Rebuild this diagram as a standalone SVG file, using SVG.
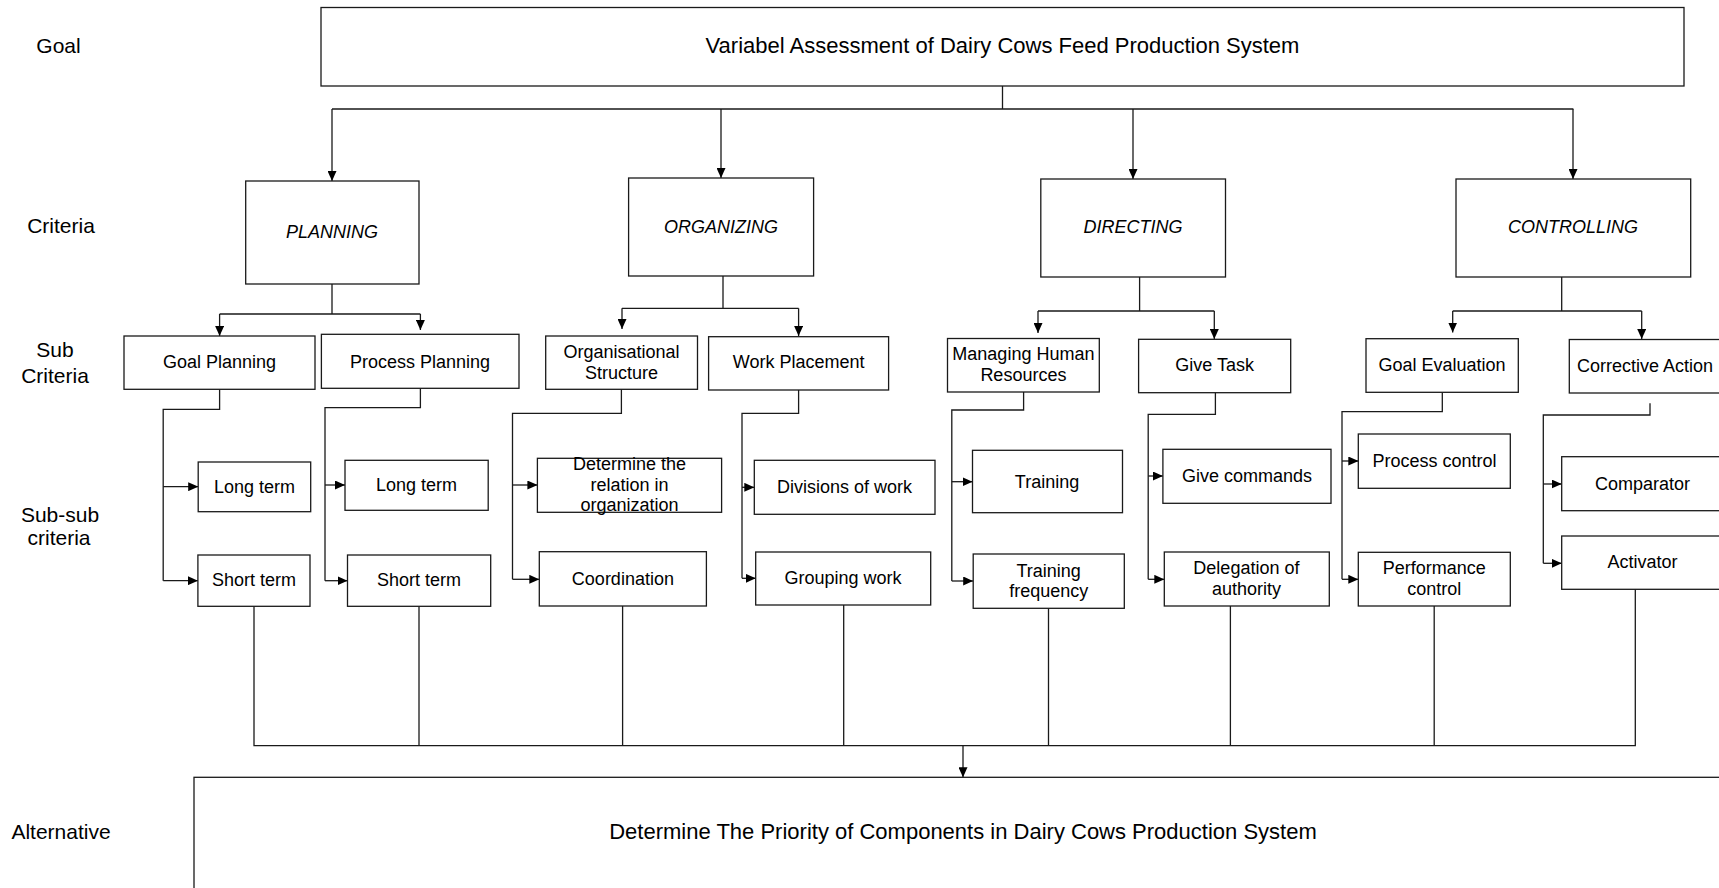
<svg xmlns="http://www.w3.org/2000/svg" width="1719" height="888" viewBox="0 0 1719 888">
<style>
.bx{fill:#fff;stroke:#1a1a1a;stroke-width:1.3}
.t{font-family:"Liberation Sans",Arial,sans-serif;font-size:18px;fill:#000;text-anchor:middle}
.ti{font-style:italic}
.big{font-size:22px}
.lbl{font-family:"Liberation Sans",Arial,sans-serif;font-size:21px;fill:#000;text-anchor:middle}
.c{fill:none;stroke:#1a1a1a;stroke-width:1.3}
.a{marker-end:url(#ah)}
</style>
<defs>
<marker id="ah" markerUnits="userSpaceOnUse" markerWidth="10" markerHeight="9" refX="10" refY="4.5" orient="auto">
<path d="M0,0 L10,4.5 L0,9 Z" fill="#000"/>
</marker>
</defs>
<rect width="1719" height="888" fill="#fff"/>
<g id="labels">
<text class="lbl big" x="58.5" y="53">Goal</text>
<text class="lbl big" x="61" y="233">Criteria</text>
<text class="lbl" x="55" y="357">Sub</text>
<text class="lbl" x="55" y="383">Criteria</text>
<text class="lbl" x="60" y="521.5">Sub-sub</text>
<text class="lbl" x="59" y="545">criteria</text>
<text class="lbl big" x="61" y="839">Alternative</text>
</g>
<g id="connectors">
<path class="c" d="M1002.5,86 V109 M332,109 H1573.4"/>
<path class="c a" d="M332,109 V181"/>
<path class="c a" d="M721,109 V178"/>
<path class="c a" d="M1133,109 V179"/>
<path class="c a" d="M1573,109 V179"/>
<path class="c" d="M332,284 V314 M219.6,314 H420.4"/>
<path class="c a" d="M219.6,314 V336"/>
<path class="c a" d="M420.4,314 V330"/>
<path class="c" d="M723,276 V308.3 M622,308.3 H798.6"/>
<path class="c a" d="M622,308.3 V329"/>
<path class="c a" d="M798.6,308.3 V336"/>
<path class="c" d="M1139.6,277 V311 M1038,311 H1214.3"/>
<path class="c a" d="M1038,311 V333"/>
<path class="c a" d="M1214.3,311 V339"/>
<path class="c" d="M1561.7,277 V311 M1452.7,311 H1641.7"/>
<path class="c a" d="M1452.7,311 V332.5"/>
<path class="c a" d="M1641.7,311 V339"/>
<path class="c" d="M219.6,389.3 V409.3 H163.2 V580.7"/>
<path class="c a" d="M163.2,486.7 H198.2"/>
<path class="c a" d="M163.2,580.7 H197.9"/>
<path class="c" d="M420.4,388.3 V407.7 H325 V580.7"/>
<path class="c a" d="M325,485 H345"/>
<path class="c a" d="M325,580.7 H347.5"/>
<path class="c" d="M621.4,389.3 V413.3 H512.5 V579.3"/>
<path class="c a" d="M512.5,485 H537.4"/>
<path class="c a" d="M512.5,579.3 H539.3"/>
<path class="c" d="M798.6,390 V413.3 H742 V578.3"/>
<path class="c a" d="M742,487.3 H754.3"/>
<path class="c a" d="M742,578.3 H755.7"/>
<path class="c" d="M1023.6,392 V410 H951.8 V581"/>
<path class="c a" d="M951.8,481.7 H972.5"/>
<path class="c a" d="M951.8,581 H973.2"/>
<path class="c" d="M1215.4,392.7 V414.3 H1148.2 V579.3"/>
<path class="c a" d="M1148.2,476 H1162.9"/>
<path class="c a" d="M1148.2,579.3 H1164.3"/>
<path class="c" d="M1442.3,392.3 V411.7 H1342 V579.3"/>
<path class="c a" d="M1342,461 H1358.3"/>
<path class="c a" d="M1342,579.3 H1358.3"/>
<path class="c" d="M1650,403.3 V415 H1543.3 V563.3"/>
<path class="c a" d="M1543.3,484 H1561.7"/>
<path class="c a" d="M1543.3,563.3 H1561.7"/>
<path class="c" d="M254,606.3 V745.7 H1635.3 V589.3 M419,606.3 V745.7 M622.6,606 V745.7 M843.7,605 V745.7 M1048.5,608.3 V745.7 M1230.4,606 V745.7 M1434.2,606 V745.7"/>
<path class="c a" d="M963,745.7 V777.3"/>
</g>
<g id="goal"><rect class="bx" x="321" y="7.5" width="1363" height="78.5"/><text class="t big" x="1002.5" y="53">Variabel Assessment of Dairy Cows Feed Production System</text></g>
<g id="planning"><rect class="bx" x="245.7" y="181" width="173.3" height="103"/><text class="t ti" x="332" y="238">PLANNING</text></g>
<g id="organizing"><rect class="bx" x="628.6" y="178" width="185" height="98"/><text class="t ti" x="721" y="233">ORGANIZING</text></g>
<g id="directing"><rect class="bx" x="1040.8" y="179" width="184.7" height="98"/><text class="t ti" x="1133" y="233">DIRECTING</text></g>
<g id="controlling"><rect class="bx" x="1456" y="179" width="234.7" height="98"/><text class="t ti" x="1573" y="233">CONTROLLING</text></g>
<g id="goal-planning"><rect class="bx" x="124" y="336" width="191" height="53.3"/><text class="t" x="219.5" y="368">Goal Planning</text></g>
<g id="process-planning"><rect class="bx" x="321.4" y="334.3" width="197.6" height="54"/><text class="t" x="420" y="367.7">Process Planning</text></g>
<g id="organisational-structure"><rect class="bx" x="545.7" y="336" width="151.8" height="53.3"/><text class="t" x="621.6" y="358">Organisational</text><text class="t" x="621.6" y="379">Structure</text></g>
<g id="work-placement"><rect class="bx" x="708.6" y="336.7" width="180" height="53.3"/><text class="t" x="798.6" y="368.3">Work Placement</text></g>
<g id="managing-human-resources"><rect class="bx" x="947.5" y="338.5" width="151.8" height="53.5"/><text class="t" x="1023.4" y="359.5">Managing Human</text><text class="t" x="1023.4" y="380.5">Resources</text></g>
<g id="give-task"><rect class="bx" x="1138.6" y="339.3" width="152.1" height="53.4"/><text class="t" x="1214.6" y="371">Give Task</text></g>
<g id="goal-evaluation"><rect class="bx" x="1366" y="338.7" width="152.3" height="53.6"/><text class="t" x="1442" y="371">Goal Evaluation</text></g>
<g id="corrective-action"><rect class="bx" x="1569.3" y="339.5" width="152" height="53.5"/><text class="t" x="1645" y="372">Corrective Action</text></g>
<g id="long-term-1"><rect class="bx" x="198.2" y="462" width="112.5" height="49.7"/><text class="t" x="254.4" y="492.7">Long term</text></g>
<g id="short-term-1"><rect class="bx" x="197.9" y="555" width="112.1" height="51.3"/><text class="t" x="254" y="586">Short term</text></g>
<g id="long-term-2"><rect class="bx" x="345" y="460.3" width="143.2" height="50"/><text class="t" x="416.6" y="490.5">Long term</text></g>
<g id="short-term-2"><rect class="bx" x="347.5" y="555" width="143.2" height="51.3"/><text class="t" x="419" y="586">Short term</text></g>
<g id="determine-relation"><rect class="bx" x="537.4" y="458.3" width="184.2" height="54"/><text class="t" x="629.5" y="470">Determine the</text><text class="t" x="629.5" y="490.5">relation in</text><text class="t" x="629.5" y="510.5">organization</text></g>
<g id="coordination"><rect class="bx" x="539.3" y="551.7" width="167.1" height="54.3"/><text class="t" x="622.9" y="585">Coordination</text></g>
<g id="divisions-of-work"><rect class="bx" x="754.3" y="460.3" width="180.7" height="54"/><text class="t" x="844.6" y="492.7">Divisions of work</text></g>
<g id="grouping-work"><rect class="bx" x="755.7" y="552" width="175" height="53"/><text class="t" x="843" y="584">Grouping work</text></g>
<g id="training"><rect class="bx" x="972.5" y="450.3" width="150" height="62.4"/><text class="t" x="1047" y="488.3">Training</text></g>
<g id="training-frequency"><rect class="bx" x="973.2" y="554" width="151.1" height="54.3"/><text class="t" x="1048.7" y="576.7">Training</text><text class="t" x="1048.7" y="596.7">frequency</text></g>
<g id="give-commands"><rect class="bx" x="1162.9" y="449.3" width="168.1" height="54"/><text class="t" x="1246.9" y="481.7">Give commands</text></g>
<g id="delegation-of-authority"><rect class="bx" x="1164.3" y="552" width="165" height="54"/><text class="t" x="1246.4" y="574">Delegation of</text><text class="t" x="1246.4" y="595">authority</text></g>
<g id="process-control"><rect class="bx" x="1358.3" y="434" width="152" height="54.3"/><text class="t" x="1434.5" y="466.7">Process control</text></g>
<g id="performance-control"><rect class="bx" x="1358.3" y="552.3" width="152" height="53.7"/><text class="t" x="1434.2" y="574">Performance</text><text class="t" x="1434.2" y="595">control</text></g>
<g id="comparator"><rect class="bx" x="1561.7" y="456.7" width="162" height="54"/><text class="t" x="1642.5" y="489.5">Comparator</text></g>
<g id="activator"><rect class="bx" x="1561.7" y="536" width="162" height="53.3"/><text class="t" x="1642.5" y="568.3">Activator</text></g>
<g id="alternative"><rect class="bx" x="194" y="777.3" width="1600" height="200"/><text class="t big" x="963" y="839.3">Determine The Priority of Components in Dairy Cows Production System</text></g>
</svg>
